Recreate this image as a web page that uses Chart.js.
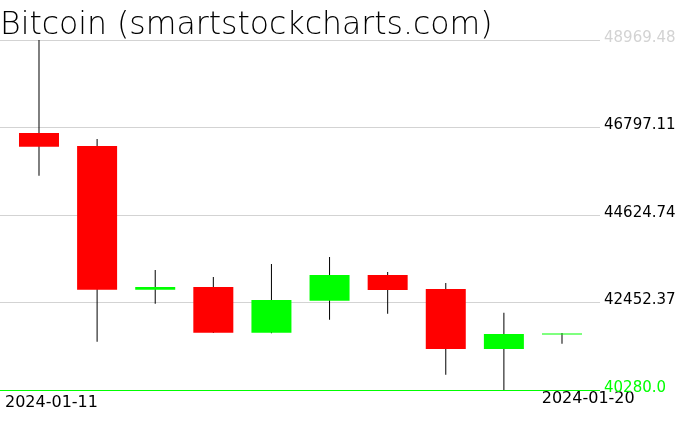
<!DOCTYPE html>
<html>
<head>
<meta charset="utf-8">
<script src="https://cdn.jsdelivr.net/npm/chart.js@4.4.1/dist/chart.umd.min.js"></script>
<style>
  html, body { margin: 0; padding: 0; background: #ffffff; }
  #wrap { width: 676px; height: 431px; position: relative; }
</style>
</head>
<body>
<div id="wrap"><canvas id="c"></canvas></div>
<script>
// ---- data ----
const dates  = ['2024-01-11','2024-01-12','2024-01-13','2024-01-14','2024-01-15',
                '2024-01-16','2024-01-17','2024-01-18','2024-01-19','2024-01-20'];
const opens  = [46661, 46338, 42770, 42837, 41703, 42497, 43135, 42787, 41298, 41660];
const highs  = [48969.48, 46511, 43259, 43085, 43408, 43582, 43209, 42936, 42199, 41695];
const lows   = [45600, 41479, 42422, 41695, 41690, 42025, 42174, 40660, 40280, 41429];
const closes = [46320, 42770, 42837, 41703, 42514, 43135, 42763, 41298, 41670, 41685];

const yTickValues = [40280.0, 42452.37, 44624.74, 46797.11, 48969.48];
const yTickLabels = ['40280.0', '42452.37', '44624.74', '46797.11', '48969.48'];
const xTickLabels = ['2024-01-11', '2024-01-20'];

const titleText = 'Bitcoin (smartstockcharts.com)';

// ---- chart ----
const UP = '#00ff00', DOWN = '#ff0000';
const FONT = '"DejaVu Sans", sans-serif';

const wickData = dates.map((d, i) => ({ x: i, y: [lows[i], highs[i]] }));
const bodyData = dates.map((d, i) => ({ x: i, y: [opens[i], closes[i]] }));

new Chart(document.getElementById('c'), {
  type: 'bar',
  data: {
    datasets: [
      {
        label: 'body',
        data: bodyData,
        order: 1,
        grouped: false,
        barThickness: 40,
        minBarLength: 1,
        inflateAmount: 0,
        borderWidth: 0,
        backgroundColor: ctx => (closes[ctx.dataIndex] >= opens[ctx.dataIndex] ? UP : DOWN)
      },
      {
        label: 'wick',
        data: wickData,
        order: 2,
        grouped: false,
        barThickness: 1,
        inflateAmount: 0,
        borderWidth: 0,
        backgroundColor: '#000000'
      }
    ]
  },
  options: {
    responsive: true,
    maintainAspectRatio: false,
    animation: false,
    events: [],
    layout: { padding: 0 },
    plugins: {
      legend: { display: false },
      tooltip: { enabled: false },
      title: {
        display: true,
        text: titleText,
        align: 'start',
        color: '#000000',
        font: { family: FONT, size: 31.5, weight: '200', lineHeight: '28px' },
        padding: { top: 12, bottom: 0 }
      }
    },
    scales: {
      x: {
        type: 'linear',
        position: 'bottom',
        offset: false,
        bounds: 'data',
        min: -0.671,
        max: 9.654,
        grid: { display: false, offset: false },
        border: { display: false },
        afterBuildTicks: s => { s.ticks = [{ value: -0.585 }, { value: 8.651 }]; },
        afterFit: s => { s.height = 41; },
        ticks: {
          autoSkip: false,
          maxRotation: 0,
          minRotation: 0,
          align: 'start',
          padding: -6,
          color: '#000000',
          font: ctx => ({ family: FONT, size: 16, weight: 'normal',
                          lineHeight: ctx.index === 0 ? 1.4 : 0.8625 }),
          callback: (v, i) => xTickLabels[i]
        }
      },
      y: {
        type: 'linear',
        position: 'right',
        min: Math.min(...lows),
        max: Math.max(...highs),
        afterBuildTicks: s => { s.ticks = yTickValues.map(v => ({ value: v })); },
        afterFit: s => { s.width = 76; },
        border: { display: false },
        grid: {
          drawTicks: false,
          lineWidth: 1,
          color: ctx => (ctx.index === 0 ? UP : '#d3d3d3')
        },
        ticks: {
          padding: 4,
          labelOffset: -2,
          font: { family: FONT, size: 15, weight: 'normal' },
          color: ctx => (ctx.index === 0 ? UP : (ctx.index === yTickValues.length - 1 ? '#d3d3d3' : '#000000')),
          callback: (v, i) => yTickLabels[i]
        }
      }
    }
  }
});
</script>
</body>
</html>
